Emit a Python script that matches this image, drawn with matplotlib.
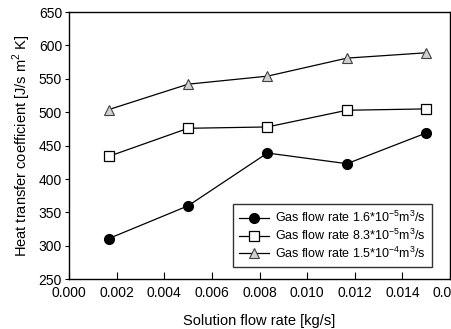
import matplotlib
matplotlib.use('Agg')
from matplotlib import pyplot as plt

plt.rcParams['font.family'] = ['Liberation Sans', 'DejaVu Sans']
plt.rcParams['mathtext.fontset'] = 'custom'
plt.rcParams['mathtext.rm'] = 'Liberation Sans'

solution_flow = [0.00167, 0.00500, 0.00833, 0.01167, 0.01500]
gas_low = [311, 360, 439, 423, 469]
gas_mid = [434, 476, 478, 503, 505]
gas_high = [504, 542, 554, 581, 589]

labels = [r'Gas flow rate 1.6*10$^{-5}$m$^3$/s',
          r'Gas flow rate 8.3*10$^{-5}$m$^3$/s',
          r'Gas flow rate 1.5*10$^{-4}$m$^3$/s']

fig = plt.figure(figsize=(4.51, 3.29), dpi=100)
ax = fig.add_axes([0.153, 0.151, 0.845, 0.8125])

ax.plot(solution_flow, gas_low, color='black', lw=0.9, marker='o', ms=7,
        mfc='black', mec='black', label=labels[0])
ax.plot(solution_flow, gas_mid, color='black', lw=0.9, marker='s', ms=7,
        mfc='white', mec='black', mew=0.9, label=labels[1])
ax.plot(solution_flow, gas_high, color='black', lw=0.9, marker='^', ms=7,
        mfc='#d0d0d0', mec='#404040', mew=0.8, label=labels[2])

ax.set_xlim(0, 0.016)
ax.set_ylim(250, 650)
ax.set_xticks([0.000, 0.002, 0.004, 0.006, 0.008, 0.010, 0.012, 0.014, 0.016])
ax.set_xticklabels(['0.000', '0.002', '0.004', '0.006', '0.008', '0.010',
                    '0.012', '0.014', '0.016'])
ax.set_yticks(range(250, 651, 50))

ax.tick_params(axis='x', direction='in', length=5, labelsize=10, pad=5)
ax.tick_params(axis='y', direction='out', length=3, labelsize=10, pad=2)
for s in ax.spines.values():
    s.set_linewidth(1.0)

ax.set_xlabel('Solution flow rate [kg/s]', fontsize=10.5, labelpad=10)
ax.set_ylabel(r'Heat transfer coefficient [J/s m$^2$ K]', fontsize=10.5, labelpad=4)

leg = ax.legend(loc='lower right', bbox_to_anchor=(0.953, 0.046),
                borderaxespad=0, fontsize=9, frameon=True, fancybox=False,
                handlelength=2.4, handletextpad=0.5, labelspacing=0.2,
                borderpad=0.5)
leg.get_frame().set_edgecolor('black')
leg.get_frame().set_linewidth(1.0)

fig.savefig('out.png', dpi=100)
